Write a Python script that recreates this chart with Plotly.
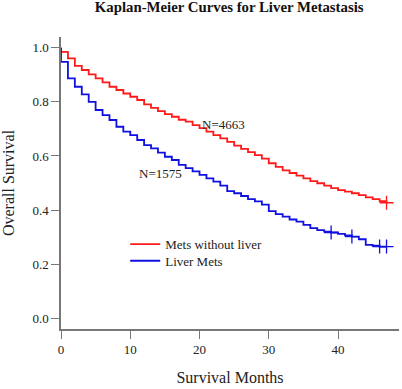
import plotly.graph_objects as go

months = list(range(0, 48))
red_surv = [0.985, 0.961, 0.933, 0.918, 0.902, 0.887, 0.872, 0.856, 0.844, 0.831,
            0.819, 0.807, 0.791, 0.778, 0.766, 0.755, 0.745, 0.734, 0.727, 0.714,
            0.703, 0.690, 0.677, 0.665, 0.652, 0.638, 0.626, 0.614, 0.603, 0.590,
            0.573, 0.560, 0.547, 0.537, 0.527, 0.517, 0.507, 0.499, 0.490, 0.481,
            0.474, 0.468, 0.462, 0.455, 0.447, 0.440, 0.433, 0.427]
blue_surv = [0.948, 0.887, 0.856, 0.828, 0.800, 0.770, 0.751, 0.733, 0.708, 0.690,
             0.677, 0.659, 0.640, 0.628, 0.612, 0.597, 0.585, 0.567, 0.555, 0.543,
             0.530, 0.517, 0.505, 0.490, 0.470, 0.462, 0.452, 0.440, 0.432, 0.420,
             0.396, 0.385, 0.376, 0.365, 0.357, 0.345, 0.333, 0.326, 0.320, 0.317,
             0.312, 0.306, 0.302, 0.292, 0.271, 0.268, 0.265, 0.265]
red_censor_t = [47]
blue_censor_t = [39, 42, 46, 47]
x_ticks = [0, 10, 20, 30, 40]
y_ticks = [0.0, 0.2, 0.4, 0.6, 0.8, 1.0]
labels = ["Mets without liver", "Liver Mets"]
n_labels = ["N=4663", "N=1575"]
n_pos = [(23.4, 0.718), (14.3, 0.537)]

RED = "#FF1A1A"
BLUE = "#1010E0"
SERIF = "Liberation Serif, Times New Roman, serif"

def surv_at(t_list, months, surv):
    return [surv[months.index(t)] for t in t_list]

fig = go.Figure()
for name, surv, col, ct, lg in [(labels[0], red_surv, RED, red_censor_t, "legend"),
                                (labels[1], blue_surv, BLUE, blue_censor_t, "legend2")]:
    fig.add_trace(go.Scatter(
        x=[0] + months, y=[1.0] + surv, mode="lines", name=name, legend=lg,
        line=dict(color=col, width=1.8, shape="hv")))
    fig.add_trace(go.Scatter(
        x=ct, y=surv_at(ct, months, surv), mode="markers", showlegend=False,
        marker=dict(symbol="cross-thin", size=10, line=dict(color=col, width=1.3))))

for txt, (ax, ay) in zip(n_labels, n_pos):
    fig.add_annotation(x=ax, y=ay, text=txt, showarrow=False,
                       font=dict(family=SERIF, size=13, color="#222"))

leg_common = dict(xanchor="left", yanchor="top", bgcolor="rgba(0,0,0,0)",
                  font=dict(family=SERIF, size=13, color="#222"))
fig.update_layout(
    width=402, height=389,
    margin=dict(l=61, r=3, t=37, b=60, autoexpand=False),
    plot_bgcolor="white", paper_bgcolor="white",
    title=dict(text="<b>Kaplan-Meier Curves for Liver Metastasis</b>",
               x=0.57, xanchor="center", y=0.982, yanchor="middle",
               font=dict(family=SERIF, size=14.8, color="#111")),
    font=dict(family=SERIF, color="#222"),
    legend=dict(x=0.19, y=0.342, **leg_common),
    legend2=dict(x=0.19, y=0.285, **leg_common),
    showlegend=True,
)
fig.update_xaxes(range=[0, 48.8], tickvals=x_ticks, ticks="outside", ticklen=8,
                 tickcolor="#777", showline=True, linecolor="#777", linewidth=1.5,
                 showgrid=False, zeroline=False, automargin=False,
                 tickfont=dict(family=SERIF, size=13),
                 title=dict(text="Survival Months", font=dict(family=SERIF, size=16)))
fig.update_yaxes(range=[-0.04, 1.04], tickvals=y_ticks, ticktext=[f"{v:.1f}" for v in y_ticks],
                 ticks="outside", ticklen=8, tickcolor="#777", showline=True,
                 linecolor="#777", linewidth=1.5, showgrid=False, zeroline=False,
                 automargin=False, tickfont=dict(family=SERIF, size=13),
                 title=dict(text="Overall Survival", font=dict(family=SERIF, size=16)))

fig.write_html("out.html", config={"displayModeBar": False},
               post_script="document.body.style.margin='0';document.body.style.overflow='hidden';")
